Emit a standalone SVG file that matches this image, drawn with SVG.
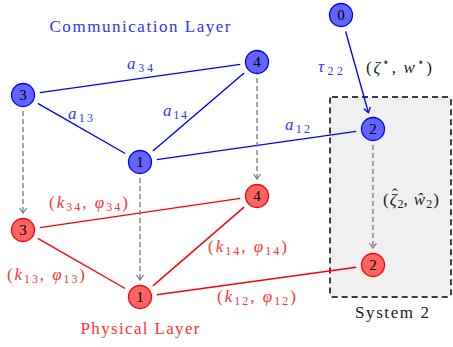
<svg xmlns="http://www.w3.org/2000/svg" width="453" height="347" viewBox="0 0 453 347">
<style>
text{font-family:"Liberation Serif","DejaVu Serif",serif;}
.num{font-size:15px;fill:#000;text-anchor:middle;dominant-baseline:central;}
.bn{fill:#6464ff;stroke:#0000ff;stroke-width:1.3;}
.rn{fill:#ff6464;stroke:#ff0000;stroke-width:1.3;}
.be{stroke:#0000ff;stroke-width:1.4;fill:none;}
.re{stroke:#ff0000;stroke-width:1.4;fill:none;}
.ge{stroke:#808080;stroke-width:1.4;fill:none;stroke-dasharray:5,3;}
.bl{fill:#3333ff;font-size:17px;}
.rl{fill:#ff3333;font-size:17px;}
.kl{fill:#222;font-size:17px;}
.m{font-style:italic;}
.s{font-size:12px;}
</style>
<defs>
<marker id="ag" markerWidth="10" markerHeight="10" refX="6" refY="5" orient="auto" markerUnits="userSpaceOnUse">
<path d="M1,1.5 L6,5 L1,8.5" fill="none" stroke="#808080" stroke-width="1.3"/>
</marker>
<marker id="ab" markerWidth="10" markerHeight="10" refX="6" refY="5" orient="auto" markerUnits="userSpaceOnUse">
<path d="M1,1.5 L6,5 L1,8.5" fill="none" stroke="#0000ff" stroke-width="1.3"/>
</marker>
</defs>
<rect x="0" y="0" width="453" height="347" fill="#fff"/>
<g id="system2-box">
<rect x="330" y="97" width="121" height="200" rx="2" fill="#f0f0f0" stroke="#000" stroke-width="1.5" stroke-dasharray="6,4"/>
<text x="392" y="318" font-size="17" fill="#222" text-anchor="middle" textLength="74" lengthAdjust="spacing">System 2</text>
</g>
<g id="titles">
<text x="140" y="32" font-size="17" fill="#3333ff" text-anchor="middle" textLength="181" lengthAdjust="spacing">Communication Layer</text>
<text x="140" y="334" font-size="17" fill="#ff3333" text-anchor="middle" textLength="119" lengthAdjust="spacing">Physical Layer</text>
</g>
<g id="connectors">
<line class="be" x1="39.8" y1="92.6" x2="240.2" y2="64.4"/>
<line class="be" x1="37.8" y1="103.4" x2="125.2" y2="153.5"/>
<line class="be" x1="244.1" y1="73" x2="152.9" y2="151"/>
<line class="be" x1="156.8" y1="159.6" x2="356.2" y2="131.4"/>
<line class="be" x1="345.6" y1="31.4" x2="368.4" y2="112.6" marker-end="url(#ab)"/>
<line class="re" x1="39.8" y1="227.6" x2="240.2" y2="198.4"/>
<line class="re" x1="37.8" y1="238.4" x2="125.2" y2="288.5"/>
<line class="re" x1="244.1" y1="207.1" x2="152.9" y2="285.9"/>
<line class="re" x1="156.8" y1="294.7" x2="356.2" y2="267.3"/>
<line class="ge" x1="23" y1="111" x2="23" y2="213" marker-end="url(#ag)"/>
<line class="ge" x1="140" y1="178" x2="140" y2="280" marker-end="url(#ag)"/>
<line class="ge" x1="257" y1="78" x2="257" y2="179" marker-end="url(#ag)"/>
<line class="ge" x1="373" y1="145" x2="373" y2="248" marker-end="url(#ag)"/>
</g>
<g id="edge-labels">
<text class="bl" x="127" y="69" textLength="26"><tspan class="m">a</tspan><tspan class="s" dy="3">34</tspan></text>
<text class="bl" x="68" y="119" textLength="25"><tspan class="m">a</tspan><tspan class="s" dy="3">13</tspan></text>
<text class="bl" x="163" y="116" textLength="24"><tspan class="m">a</tspan><tspan class="s" dy="3">14</tspan></text>
<text class="bl" x="285" y="130" textLength="25"><tspan class="m">a</tspan><tspan class="s" dy="3">12</tspan></text>
<text class="bl" x="318" y="72" textLength="25"><tspan class="m">τ</tspan><tspan class="s" dy="3">22</tspan></text>
<text class="kl" x="366" y="73" textLength="66">(<tspan class="m">ζ</tspan><tspan class="s" dy="-7">⋆</tspan><tspan dy="7">, </tspan><tspan class="m">w</tspan><tspan class="s" dy="-7">⋆</tspan><tspan dy="7">)</tspan></text>
<text class="kl" x="383" y="205">(<tspan class="m" dx="1">ζ</tspan><tspan class="s" dx="1" dy="3">2</tspan><tspan dy="-3">,</tspan><tspan class="m" dx="6">ŵ</tspan><tspan class="s" dx="1" dy="3">2</tspan><tspan dx="1" dy="-3">)</tspan><tspan x="392" y="200">ˆ</tspan></text>
<text class="rl" x="49" y="208" textLength="79">(<tspan class="m">k</tspan><tspan class="s" dy="3">34</tspan><tspan dy="-3">, </tspan><tspan class="m">φ</tspan><tspan class="s" dy="3">34</tspan><tspan dy="-3">)</tspan></text>
<text class="rl" x="7" y="280" textLength="78">(<tspan class="m">k</tspan><tspan class="s" dy="3">13</tspan><tspan dy="-3">, </tspan><tspan class="m">φ</tspan><tspan class="s" dy="3">13</tspan><tspan dy="-3">)</tspan></text>
<text class="rl" x="208" y="252" textLength="79">(<tspan class="m">k</tspan><tspan class="s" dy="3">14</tspan><tspan dy="-3">, </tspan><tspan class="m">φ</tspan><tspan class="s" dy="3">14</tspan><tspan dy="-3">)</tspan></text>
<text class="rl" x="217" y="302" textLength="79">(<tspan class="m">k</tspan><tspan class="s" dy="3">12</tspan><tspan dy="-3">, </tspan><tspan class="m">φ</tspan><tspan class="s" dy="3">12</tspan><tspan dy="-3">)</tspan></text>
</g>
<g id="node-c0"><circle class="bn" cx="341" cy="15" r="11.5"/><text class="num" x="341" y="15">0</text></g>
<g id="node-c1"><circle class="bn" cx="140" cy="162" r="11.5"/><text class="num" x="140" y="162">1</text></g>
<g id="node-c2"><circle class="bn" cx="373" cy="129" r="11.5"/><text class="num" x="373" y="129">2</text></g>
<g id="node-c3"><circle class="bn" cx="23" cy="95" r="11.5"/><text class="num" x="23" y="95">3</text></g>
<g id="node-c4"><circle class="bn" cx="257" cy="62" r="11.5"/><text class="num" x="257" y="62">4</text></g>
<g id="node-p1"><circle class="rn" cx="140" cy="297" r="11.5"/><text class="num" x="140" y="297">1</text></g>
<g id="node-p2"><circle class="rn" cx="373" cy="265" r="11.5"/><text class="num" x="373" y="265">2</text></g>
<g id="node-p3"><circle class="rn" cx="23" cy="230" r="11.5"/><text class="num" x="23" y="230">3</text></g>
<g id="node-p4"><circle class="rn" cx="257" cy="196" r="11.5"/><text class="num" x="257" y="196">4</text></g>
</svg>
